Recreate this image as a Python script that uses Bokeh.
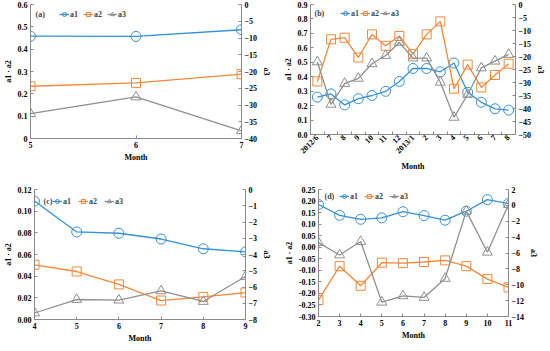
import math
from bokeh.plotting import figure
from bokeh.models import (Range1d, LinearAxis, FixedTicker, Legend, LegendItem,
                          Label, NumeralTickFormatter)
from bokeh.layouts import column, row
from bokeh.embed import file_html
from bokeh.resources import INLINE

# ---------------- data ----------------
months_a = [5, 6, 7]
a1_a = [0.458, 0.457, 0.487]
a2_a = [0.234, 0.249, 0.288]
a3_a = [-32.6, -27.6, -37.7]

labels_b = ["2012/6", "7", "8", "9", "10", "11", "12", "2013/1",
            "2", "3", "4", "5", "6", "7", "8"]
a1_b = [0.259, 0.281, 0.205, 0.248, 0.270, 0.299, 0.367, 0.457,
        0.457, 0.434, 0.495, 0.292, 0.223, 0.178, 0.169]
a2_b = [0.367, 0.659, 0.670, 0.533, 0.693, 0.614, 0.682, 0.556,
        0.693, 0.783, 0.317, 0.484, 0.326, 0.412, 0.490]
a3_b = [-22.1, -38.4, -30.4, -28.4, -22.8, -19.6, -14.6, -20.6,
        -20.6, -29.9, -43.4, -34.6, -24.4, -21.8, -19.2]

months_c = [4, 5, 6, 7, 8, 9]
a1_c = [0.1093, 0.0808, 0.0796, 0.0743, 0.0653, 0.0624]
a2_c = [0.0505, 0.0443, 0.0324, 0.0175, 0.0208, 0.0249]
a3_c = [-7.6, -6.77, -6.81, -6.24, -6.89, -5.35]

months_d = [2, 3, 4, 5, 6, 7, 8, 9, 10, 11]
a1_d = [0.185, 0.138, 0.121, 0.127, 0.154, 0.137, 0.117, 0.156, 0.206, 0.189]
a2_d = [-0.229, -0.082, -0.167, -0.067, -0.069, -0.064, -0.057, -0.082, -0.138, -0.174]
a3_d = [-4.7, -6.25, -4.56, -12.2, -11.4, -11.6, -9.2, -0.72, -5.9, 0.1]

# ---------------- style ----------------
FONT = "Liberation Serif"
FS = "8px"
BLUE = "#3590DA"
ORANGE = "#F4883A"
GRAY = "#8F8F8F"
AXIS = "#8A8A8A"


def style_axis(ax):
    ax.axis_line_color = AXIS
    ax.major_tick_line_color = AXIS
    ax.minor_tick_line_color = None
    ax.major_tick_in = 3
    ax.major_tick_out = 0
    ax.major_label_text_font = FONT
    ax.major_label_text_font_style = "bold"
    ax.major_label_text_font_size = FS
    ax.major_label_text_color = "black"
    ax.major_label_standoff = 3
    ax.axis_label_text_font = FONT
    ax.axis_label_text_font_style = "bold"
    ax.axis_label_text_font_size = FS
    ax.axis_label_text_color = "black"
    ax.axis_label_standoff = 2


def panel(tag, x, a1, a2, a3, fw, fh, bl, br, bt, bb, xr, yr, y2r, xticks, yticks,
          y2ticks, yfmt, leg_dx, leg_dy, tag_dx, spacing, xlabels=None):
    p = figure(frame_width=fw, frame_height=fh, output_backend="svg",
               toolbar_location=None,
               x_range=Range1d(*xr), y_range=Range1d(*yr),
               min_border_left=bl, min_border_right=br,
               min_border_top=bt, min_border_bottom=bb)
    p.grid.visible = False
    p.outline_line_color = None
    p.background_fill_color = "white"
    p.border_fill_color = "white"
    p.extra_y_ranges = {"a3": Range1d(*y2r)}
    ax2 = LinearAxis(y_range_name="a3", axis_label="a3",
                     ticker=FixedTicker(ticks=y2ticks))
    p.add_layout(ax2, "right")

    style_axis(p.xaxis[0])
    style_axis(p.yaxis[0])
    style_axis(ax2)
    p.xaxis[0].axis_label = "Month"
    p.yaxis[0].axis_label = "a1 · a2"
    p.yaxis[0].ticker = FixedTicker(ticks=yticks)
    if yfmt:
        p.yaxis[0].formatter = NumeralTickFormatter(format=yfmt)
    if xlabels is not None:
        xa = p.xaxis[0]
        xa.ticker = FixedTicker(ticks=xticks,
                                minor_ticks=[t - 0.5 for t in xticks] + [xticks[-1] + 0.5])
        xa.major_label_overrides = {t: lab for t, lab in zip(xticks, xlabels)}
        xa.major_label_orientation = math.pi / 4
        xa.major_tick_in = 0
        xa.minor_tick_line_color = AXIS
        xa.minor_tick_in = 3
        xa.minor_tick_out = 0
        xa.major_label_standoff = 2
        xa.axis_label_standoff = 0
    else:
        p.xaxis[0].ticker = FixedTicker(ticks=xticks)

    l1 = p.line(x, a1, color=BLUE, line_width=1.3)
    m1 = p.scatter(x, a1, marker="circle", size=10, line_color=BLUE,
                   fill_color=None, line_width=1)
    l2 = p.line(x, a2, color=ORANGE, line_width=1.3)
    m2 = p.scatter(x, a2, marker="square", size=9, line_color=ORANGE,
                   fill_color=None, line_width=1)
    l3 = p.line(x, a3, color=GRAY, line_width=1.3, y_range_name="a3")
    m3 = p.scatter(x, a3, marker="triangle", size=10, line_color=GRAY,
                   fill_color=None, line_width=1, y_range_name="a3")

    lh = 12
    leg = Legend(items=[LegendItem(label="a1", renderers=[l1, m1]),
                        LegendItem(label="a2", renderers=[l2, m2]),
                        LegendItem(label="a3", renderers=[l3, m3])],
                 orientation="horizontal",
                 location=(leg_dx, fh - leg_dy - lh / 2),
                 glyph_width=10, glyph_height=lh, label_height=lh,
                 label_width=8, label_standoff=1, spacing=spacing,
                 padding=0, margin=0, border_line_color=None,
                 background_fill_alpha=0,
                 label_text_font=FONT, label_text_font_style="bold",
                 label_text_font_size=FS)
    p.add_layout(leg)
    p.add_layout(Label(x=tag_dx, y=fh - leg_dy, x_units="screen", y_units="screen",
                       text="(%s)" % tag, text_font=FONT, text_font_style="bold",
                       text_font_size=FS, text_baseline="middle"))
    return p


pa = panel("a", months_a, a1_a, a2_a, a3_a, 211, 134, 26, 28, 4, 29,
           (5, 7), (0, 0.6), (-40, 0), months_a,
           [0, 0.1, 0.2, 0.3, 0.4, 0.5, 0.6], list(range(-40, 1, 5)), None,
           29, 10, 5, 5)

xb = list(range(len(labels_b)))
pb = panel("b", xb, a1_b, a2_b, a3_b, 205, 130, 36, 26, 4, 33,
           (-0.5, len(labels_b) - 0.5), (0, 0.9), (-50, 0), xb,
           [i / 10 for i in range(10)], list(range(-50, 1, 5)), "0.0",
           30, 9, 4, 1, xlabels=labels_b)

pc = panel("c", months_c, a1_c, a2_c, a3_c, 211, 130, 32, 23, 13, 24,
           (4, 9), (0, 0.12), (-8, 0), months_c,
           [0, 0.02, 0.04, 0.06, 0.08, 0.10, 0.12], list(range(-8, 1)), "0.00",
           18, 12, 9, 7)

pd_ = panel("d", months_d, a1_d, a2_d, a3_d, 190, 127, 44, 26, 16, 24,
            (2, 11), (-0.30, 0.25), (-14, 2), months_d,
            [round(-0.30 + 0.05 * i, 2) for i in range(12)], list(range(-14, 3, 2)),
            "0.00", 21, 7, 6, 6)

layout = column(row(pa, pb), row(pc, pd_))
open("out.html", "w").write(file_html(layout, INLINE))
